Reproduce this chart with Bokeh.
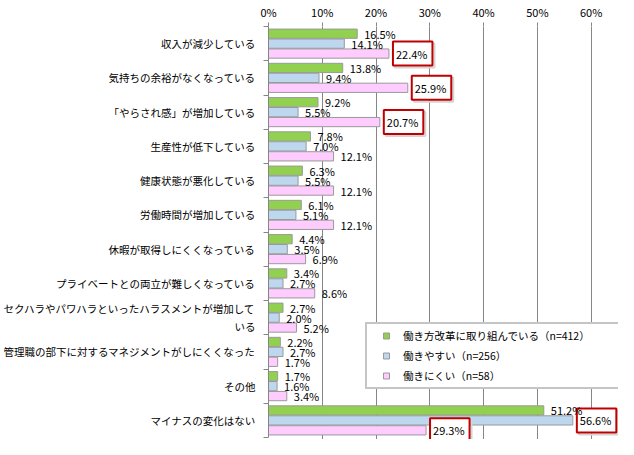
from bokeh.plotting import figure
from bokeh.models import (ColumnDataSource, Legend, LegendItem,
                          FixedTicker, PrintfTickFormatter, Range1d)
from bokeh.core.properties import value
from bokeh.embed import file_html
from bokeh.resources import INLINE

categories = [
    "収入が減少している",
    "気持ちの余裕がなくなっている",
    "「やらされ感」が増加している",
    "生産性が低下している",
    "健康状態が悪化している",
    "労働時間が増加している",
    "休暇が取得しにくくなっている",
    "プライベートとの両立が難しくなっている",
    "セクハラやパワハラといったハラスメントが増加して\nいる",
    "管理職の部下に対するマネジメントがしにくくなった",
    "その他",
    "マイナスの変化はない",
]
green = [16.5, 13.8, 9.2, 7.8, 6.3, 6.1, 4.4, 3.4, 2.7, 2.2, 1.7, 51.2]
blue = [14.1, 9.4, 5.5, 7.0, 5.5, 5.1, 3.5, 2.7, 2.0, 2.7, 1.6, 56.6]
pink = [22.4, 25.9, 20.7, 12.1, 12.1, 12.1, 6.9, 8.6, 5.2, 1.7, 3.4, 29.3]
series_names = ["働き方改革に取り組んでいる（n=412）", "働きやすい（n=256）", "働きにくい（n=58）"]
highlight_pink = [0, 1, 2, 11]
highlight_blue = [11]
x_ticks = [0, 10, 20, 30, 40, 50, 60]

FONT = "Noto Sans CJK JP"
colors = ["#92D050", "#BDD7EE", "#FFCCFF"]
edge = "#9a9a9a"
DODGE = 0.29
BAR_H = 0.27

W, H = 618, 439
LEFT, TOP = 260, 21
PLOT_W = 330          # pixels spanned by 0..60 %
n = len(categories)
cat_px = 416 / n
centers = [i + 0.5 for i in range(n)]

p = figure(width=W, height=H, output_backend="svg", toolbar_location=None,
           x_range=Range1d(0, x_ticks[-1] * (W - LEFT) / PLOT_W),
           y_range=Range1d(n + (H - TOP - 416) / cat_px, 0),
           x_axis_location="above", y_axis_location="left",
           min_border_left=LEFT, min_border_right=0, min_border_top=TOP,
           min_border_bottom=0)
p.outline_line_color = None
p.background_fill_color = "white"
p.border_fill_color = "white"

# grid / axes
p.ygrid.visible = False
p.xaxis.ticker = FixedTicker(ticks=x_ticks)
p.xaxis.formatter = PrintfTickFormatter(format="%d%%")
p.xgrid.grid_line_color = "#868686"
p.xgrid.grid_line_width = 1
p.xaxis.axis_line_color = None
p.xaxis.major_tick_out = 4
p.xaxis.major_tick_in = 0
p.xaxis.major_tick_line_color = "#868686"
p.xaxis.minor_tick_line_color = None
p.xaxis.major_label_standoff = 3
p.xaxis.major_label_text_font = FONT
p.xaxis.major_label_text_font_size = "11px"
p.xaxis.major_label_text_color = "black"

p.yaxis.ticker = FixedTicker(ticks=centers, minor_ticks=list(range(n + 1)))
p.yaxis.major_label_overrides = {centers[i]: categories[i] for i in range(n)}
p.yaxis.bounds = (0, n)
p.yaxis.axis_line_color = "#868686"
p.yaxis.major_tick_out = 0
p.yaxis.major_tick_in = 0
p.yaxis.minor_tick_out = 5
p.yaxis.minor_tick_in = 0
p.yaxis.minor_tick_line_color = "#868686"
p.yaxis.major_label_standoff = 8
p.yaxis.major_label_text_font = FONT
p.yaxis.major_label_text_font_size = "10.5px"
p.yaxis.major_label_text_color = "black"

series = [green, blue, pink]
offsets = [-DODGE, 0.0, DODGE]
sources = []
for vals, off, col in zip(series, offsets, colors):
    src = ColumnDataSource(dict(
        y=[c + off for c in centers],
        v=vals,
        t=[f"{v:.1f}%" for v in vals],
    ))
    sources.append(src)
    p.hbar(y="y", left=0, right="v", height=BAR_H, source=src,
           fill_color=col, line_color=edge, line_width=1)

# highlighted labels with red frames (shadow + frame)
hl_x, hl_y, hl_t = [], [], []
for i in highlight_pink:
    hl_x.append(pink[i]); hl_y.append(centers[i] + DODGE); hl_t.append(f"{pink[i]:.1f}%")
for i in highlight_blue:
    hl_x.append(blue[i]); hl_y.append(centers[i]); hl_t.append(f"{blue[i]:.1f}%")
hl_src = ColumnDataSource(dict(x=hl_x, y=hl_y, t=hl_t))
p.text(x="x", y="y", text="t", source=hl_src, x_offset=6, y_offset=2,
       text_align="left", text_baseline="middle",
       text_font=value(FONT), text_font_size="11px", text_color=None,
       border_line_color="#d4d4d4", border_line_width=2, padding=4)
p.text(x="x", y="y", text="t", source=hl_src, x_offset=4,
       text_align="left", text_baseline="middle",
       text_font=value(FONT), text_font_size="11px", text_color=None,
       background_fill_color="white",
       border_line_color="#C00000", border_line_width=2, padding=4)

# value labels
for src in sources:
    p.text(x="v", y="y", text="t", source=src, x_offset=7,
           text_align="left", text_baseline="middle",
           text_font=value(FONT), text_font_size="11px", text_color="black")

# legend (proxy squares without visible marks)
nan = float("nan")
items = []
for name, col in zip(series_names, colors):
    r = p.scatter(x=[nan], y=[nan], marker="square", size=6, fill_color=col, line_color=edge)
    items.append(LegendItem(label=name, renderers=[r]))
legend = Legend(items=items, location=(97, 50), orientation="vertical",
                glyph_width=30, glyph_height=15, label_height=15, label_width=220,
                label_standoff=2, spacing=5, padding=4, margin=0,
                label_text_font=FONT, label_text_font_size="10.5px",
                label_text_color="black",
                border_line_color="#8c8c8c", border_line_width=2,
                background_fill_color="white", background_fill_alpha=1)
p.add_layout(legend, "center")

open("out.html", "w").write(file_html(p, INLINE))
